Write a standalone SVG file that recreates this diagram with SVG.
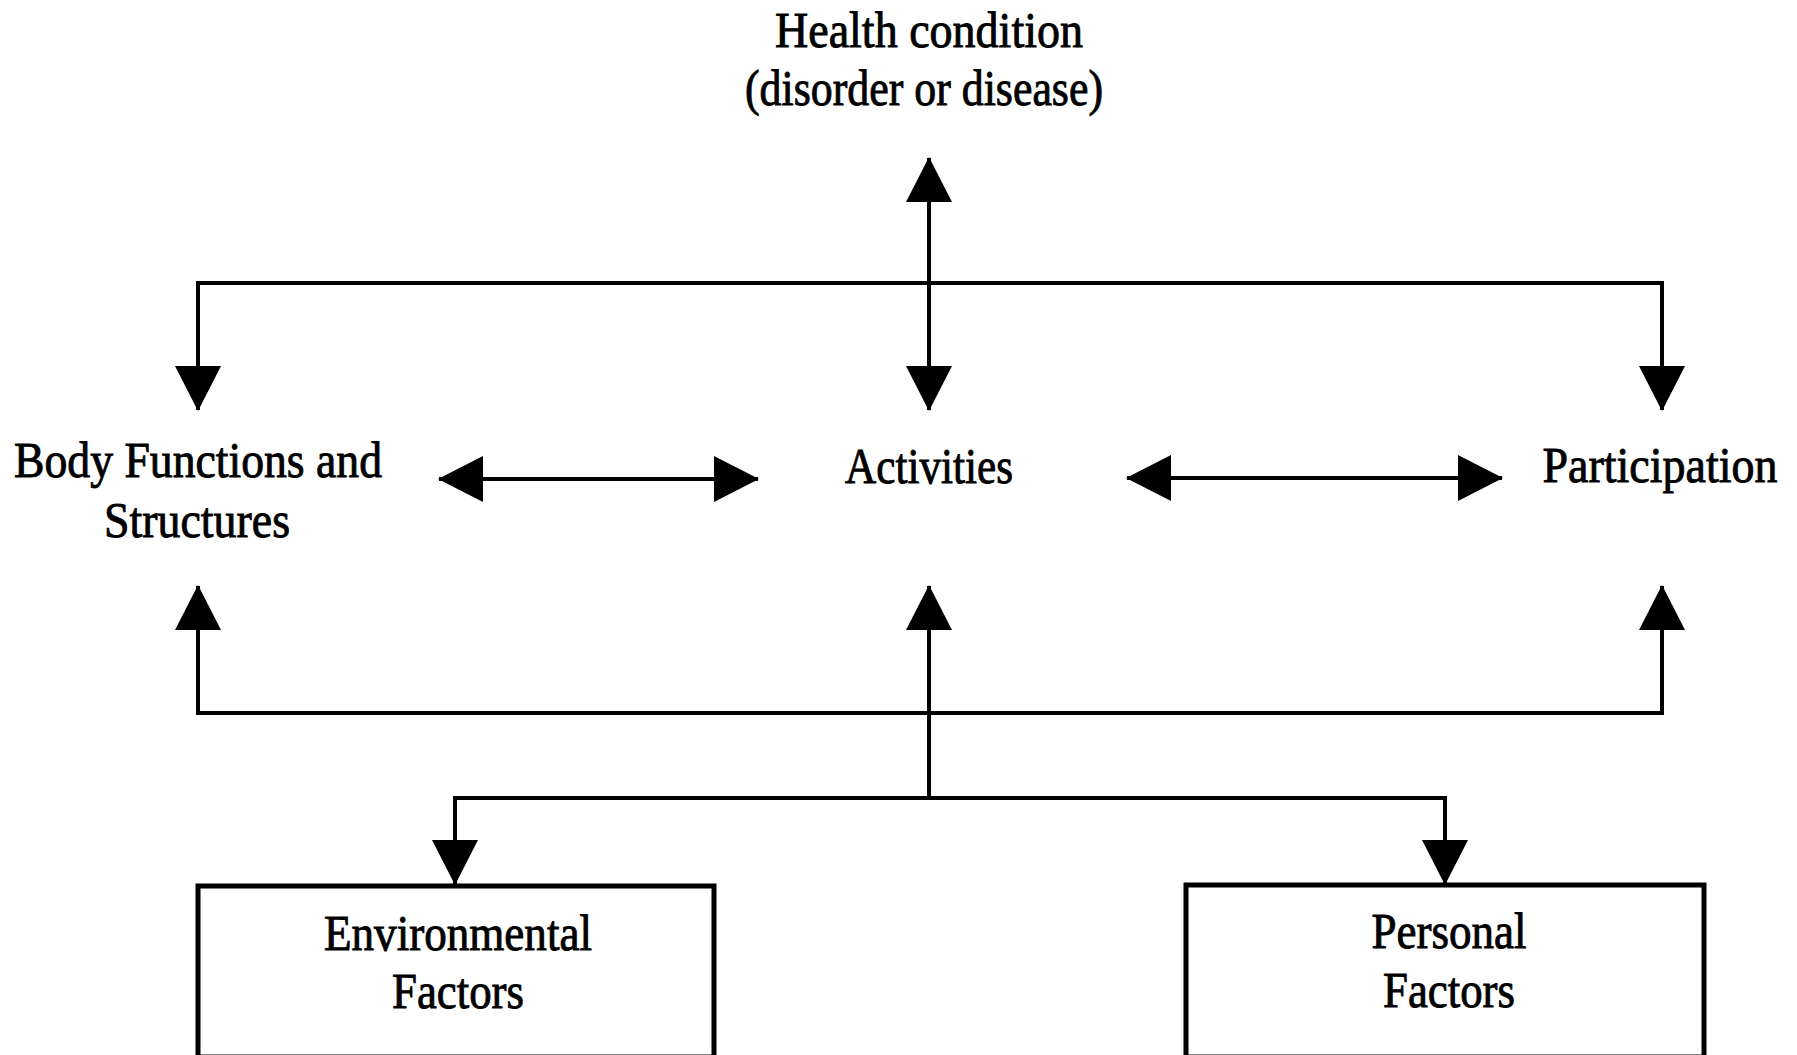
<svg xmlns="http://www.w3.org/2000/svg" width="1797" height="1055" viewBox="0 0 1797 1055">
<style>
  .bg{fill:#ffffff}
  .lbl{font-family:"Liberation Serif","Times New Roman",serif;font-size:50px;fill:#000;stroke:#000;stroke-width:0.9;text-anchor:middle}
  .con{fill:none;stroke:#000;stroke-width:4;stroke-linejoin:miter;marker-start:url(#ah);marker-end:url(#ah)}
  .one{fill:none;stroke:#000;stroke-width:4;marker-end:url(#ah)}
  .box{fill:#fff;stroke:#000;stroke-width:5}
</style>
<defs>
  <marker id="ah" viewBox="0 0 45 46" markerWidth="45" markerHeight="46" refX="44" refY="23" markerUnits="userSpaceOnUse" orient="auto-start-reverse">
    <path d="M0,0 L45,23 L0,46 z" fill="#000"/>
  </marker>
</defs>
<rect class="bg" x="0" y="0" width="1797" height="1055"/>
<g id="connectors">
  <line class="con" x1="929" y1="410" x2="929" y2="158"/>
  <path class="con" d="M198,410 L198,283 L1662,283 L1662,410"/>
  <line class="con" x1="439" y1="479" x2="758" y2="479"/>
  <line class="con" x1="1127" y1="478" x2="1502" y2="478"/>
  <path class="con" d="M198,586 L198,713 L1662,713 L1662,586"/>
  <line class="one" x1="929" y1="798" x2="929" y2="586"/>
  <path class="con" d="M455,884 L455,798 L1445,798 L1445,884"/>
</g>
<g id="health">
  <text class="lbl" x="929" y="47" textLength="308" lengthAdjust="spacingAndGlyphs">Health  condition</text>
  <text class="lbl" x="924" y="105" textLength="358" lengthAdjust="spacingAndGlyphs">(disorder or disease)</text>
</g>
<g id="body">
  <text class="lbl" x="198" y="477" textLength="368" lengthAdjust="spacingAndGlyphs">Body Functions  and</text>
  <text class="lbl" x="197" y="537" textLength="186" lengthAdjust="spacingAndGlyphs">Structures</text>
</g>
<g id="activities">
  <text class="lbl" x="929" y="483" textLength="168" lengthAdjust="spacingAndGlyphs">Activities</text>
</g>
<g id="participation">
  <text class="lbl" x="1660" y="482" textLength="235" lengthAdjust="spacingAndGlyphs">Participation</text>
</g>
<g id="environmental">
  <rect class="box" x="198" y="886" width="516" height="171"/>
  <text class="lbl" x="458" y="950" textLength="268" lengthAdjust="spacingAndGlyphs">Environmental</text>
  <text class="lbl" x="458" y="1008" textLength="132" lengthAdjust="spacingAndGlyphs">Factors</text>
</g>
<g id="personal">
  <rect class="box" x="1186" y="885" width="518" height="172"/>
  <text class="lbl" x="1449" y="948" textLength="155" lengthAdjust="spacingAndGlyphs">Personal</text>
  <text class="lbl" x="1449" y="1007" textLength="132" lengthAdjust="spacingAndGlyphs">Factors</text>
</g>
</svg>
